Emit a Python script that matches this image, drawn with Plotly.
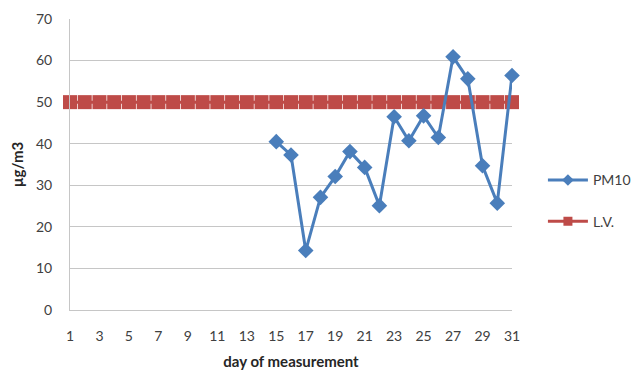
import plotly.graph_objects as go

# Daily PM10 concentrations (µg/m3); measurements start on day 15
days = list(range(1, 32))
pm10 = [None] * 14 + [40.5, 37.3, 14.3, 27.1, 32.1, 38.1, 34.3, 25.1,
                      46.5, 40.7, 46.7, 41.5, 60.9, 55.6, 34.7, 25.7, 56.4]
# Daily limit value
limit_value = [50] * 31

x_ticks = list(range(1, 32, 2))
y_ticks = list(range(0, 71, 10))

BLUE = "#4A7EBB"
RED = "#BE4B48"
GRID = "#C6C6C6"
FONT = "Lato"

fig = go.Figure()

# Limit value: square markers that butt against each other form a solid band
fig.add_trace(go.Scatter(
    x=days, y=limit_value, mode="lines+markers", name="L.V.",
    line=dict(color=RED, width=3),
    marker=dict(symbol="square", size=14, color=RED, line=dict(width=0)),
    cliponaxis=False, showlegend=False,
))

fig.add_trace(go.Scatter(
    x=days, y=pm10, mode="lines+markers", name="PM10",
    line=dict(color=BLUE, width=3),
    marker=dict(symbol="diamond", size=12, color=BLUE),
    connectgaps=False, cliponaxis=False, showlegend=False,
))

# Legend entries with smaller symbols
fig.add_trace(go.Scatter(
    x=[None], y=[None], mode="lines+markers", name="PM10",
    line=dict(color=BLUE, width=3),
    marker=dict(symbol="diamond", size=9, color=BLUE),
    legendgroup="a",
))
fig.add_trace(go.Scatter(
    x=[None], y=[None], mode="lines+markers", name="L.V.",
    line=dict(color=RED, width=3),
    marker=dict(symbol="square", size=9, color=RED),
    legendgroup="b",
))

fig.update_layout(
    width=635, height=372,
    margin=dict(l=70, r=123, t=19, b=62),
    paper_bgcolor="white", plot_bgcolor="white",
    font=dict(family=FONT, size=14, color="#404040"),
    legend=dict(
        xref="container", yref="container",
        x=0.855, y=0.46, xanchor="left", yanchor="middle",
        traceorder="grouped", tracegroupgap=20,
        font=dict(family=FONT, size=14, color="#404040"),
        itemwidth=40,
    ),
    xaxis=dict(
        range=[1, 31], tickmode="array", tickvals=x_ticks,
        ticktext=[str(v) for v in x_ticks],
        showgrid=False, zeroline=False, automargin=False,
        showline=True, linecolor=GRID, linewidth=1,
        ticks="", ticklabelstandoff=13,
        title=dict(text="<b>day of measurement</b>", standoff=13,
                   font=dict(family=FONT, size=15, color="#262626")),
    ),
    yaxis=dict(
        range=[0, 70], tickmode="array", tickvals=y_ticks,
        showgrid=True, gridcolor=GRID, gridwidth=1,
        zeroline=False, showline=True, linecolor=GRID, linewidth=1,
        ticks="", ticklabelstandoff=14, automargin=False,
        title=dict(text="<b>µg/m3</b>", standoff=8,
                   font=dict(family=FONT, size=15, color="#262626")),
    ),
)

fig.write_html("out.html")
